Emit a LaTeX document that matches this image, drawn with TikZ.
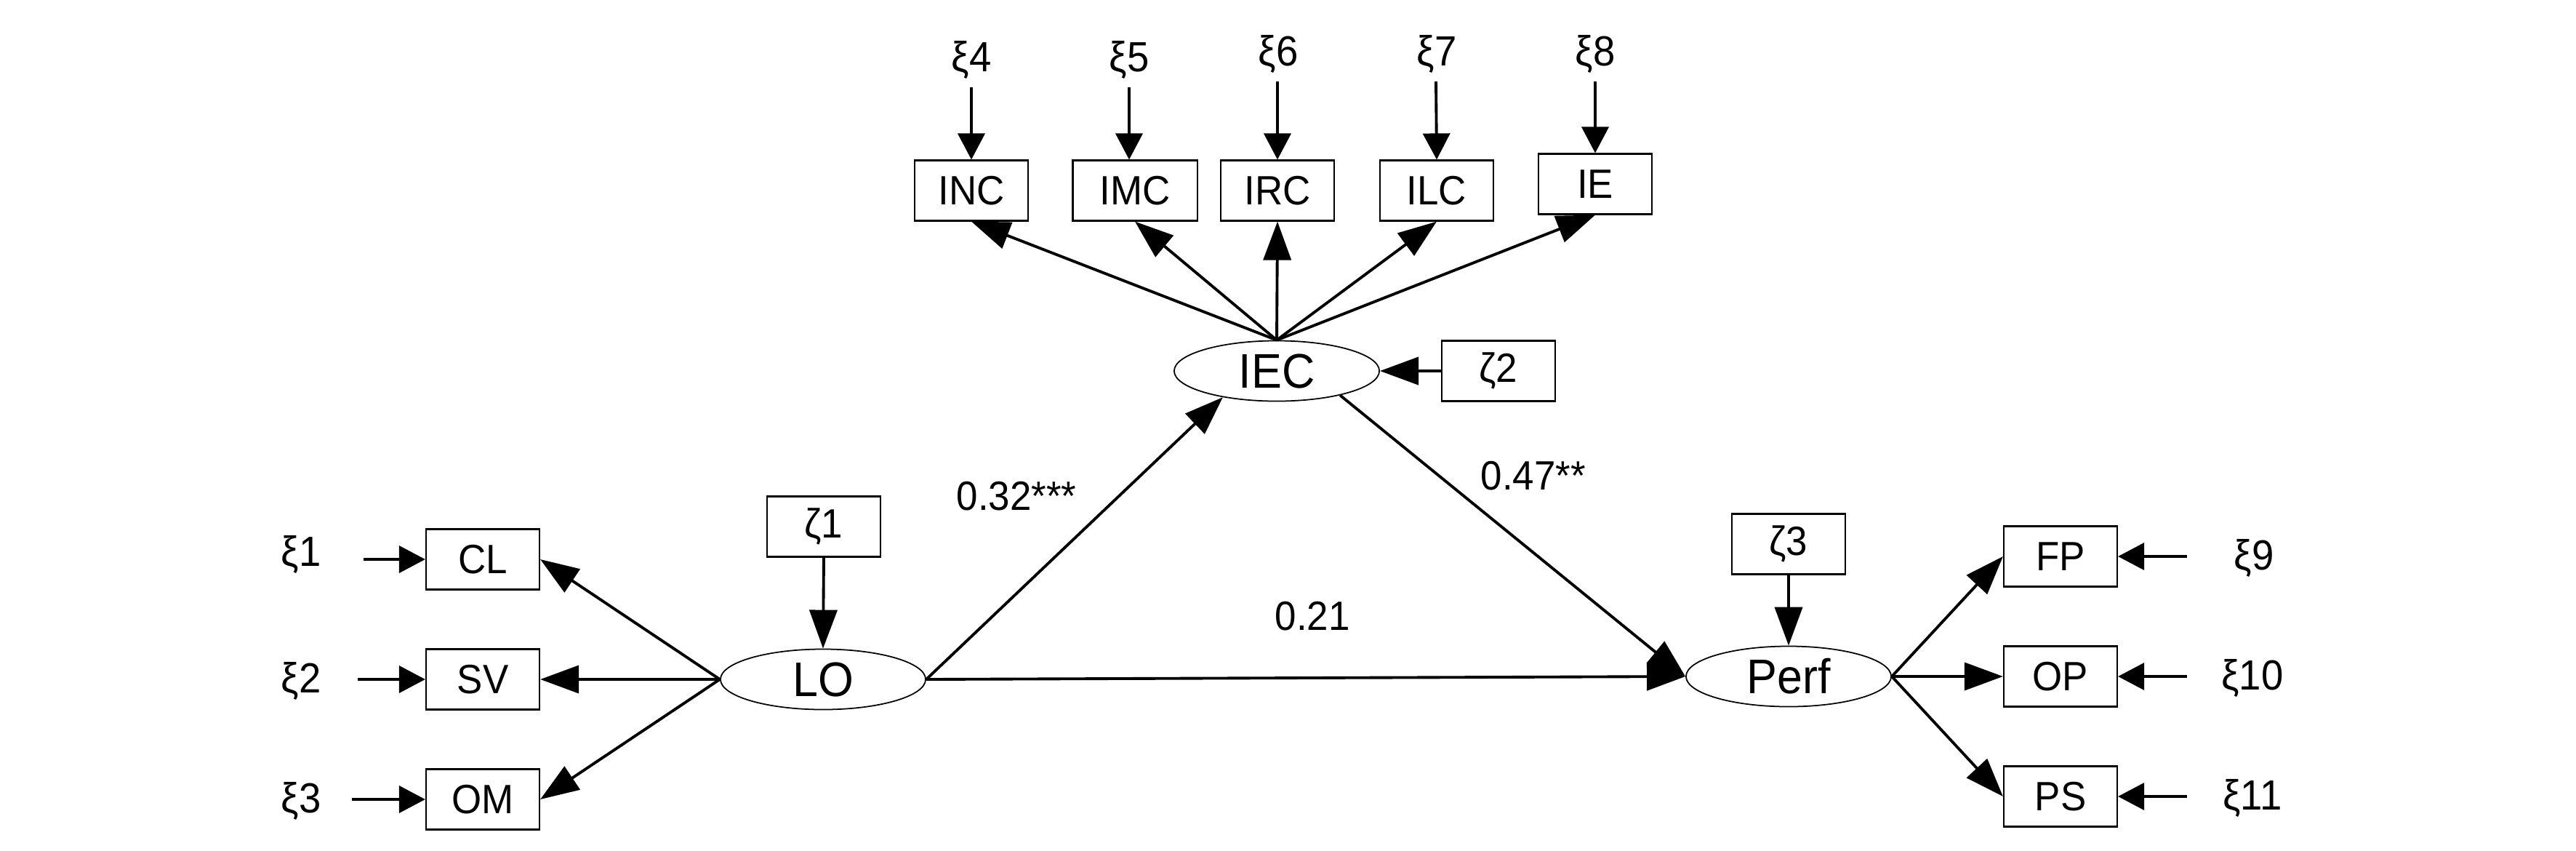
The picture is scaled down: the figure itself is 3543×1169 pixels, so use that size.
\documentclass[tikz,border=0pt]{standalone}
\usepackage{fontspec}
\setmainfont[FakeStretch=0.94]{Liberation Sans}
\usetikzlibrary{arrows.meta,shapes.geometric}
\begin{document}
\begin{tikzpicture}[x=0.01cm,y=-0.01cm,
  box/.style={draw, line width=0.6pt, minimum width=1.56cm, minimum height=0.83cm, inner sep=0pt, font=\fontsize{16}{18}\selectfont},
  lat/.style={draw, ellipse, line width=0.5pt, minimum width=2.82cm, minimum height=0.83cm, inner sep=0pt, font=\fontsize{19}{21}\selectfont},
  err/.style={inner sep=0pt, anchor=base, font=\fontsize{16.5}{18}\selectfont},
  coef/.style={inner sep=0pt, anchor=base west, font=\fontsize{16}{18}\selectfont},
  sarr/.style={line width=1.1pt, -{Triangle[length=0.53cm,width=0.38cm]}},
  earr/.style={line width=1.1pt, -{Triangle[length=0.36cm,width=0.37cm]}},
]
\useasboundingbox (0,0) rectangle (3543,1169);

% latent variables
\node[lat] (IEC) at (1756,510) {IEC};
\node[lat] (LO) at (1132,934) {LO};
\node[lat] (Perf) at (2460,930) {Perf};

% indicators top
\node[box] (INC) at (1336,262) {INC};
\node[box, minimum width=1.71cm] (IMC) at (1561,262) {IMC};
\node[box] (IRC) at (1757,262) {IRC};
\node[box] (ILC) at (1976,262) {ILC};
\node[box] (IE) at (2194,253) {IE};

% left indicators
\node[box] (CL) at (664,769) {CL};
\node[box] (SV) at (664,934) {SV};
\node[box] (OM) at (664,1099) {OM};

% right indicators
\node[box] (FP) at (2834,765) {FP};
\node[box] (OP) at (2834,930) {OP};
\node[box] (PS) at (2834,1095) {PS};

% disturbances
\node[box] (z1) at (1133,724) {ζ1};
\node[box] (z2) at (2061,510) {ζ2};
\node[box] (z3) at (2460,748) {ζ3};

% error labels
\node[err] (x4) at (1336,98) {ξ4};
\node[err] (x5) at (1553,98) {ξ5};
\node[err] (x6) at (1758,90) {ξ6};
\node[err] (x7) at (1976,90) {ξ7};
\node[err] (x8) at (2194,90) {ξ8};
\node[err] (x1) at (414,778) {ξ1};
\node[err] (x2) at (414,952) {ξ2};
\node[err] (x3) at (414,1117) {ξ3};
\node[err] (x9) at (3100,783) {ξ9};
\node[err] (x10) at (3098,948) {ξ10};
\node[err] (x11) at (3098,1113) {ξ11};

% arrow starts for error terms
\coordinate (s4) at (1336,120);
\coordinate (s5) at (1553,120);
\coordinate (s6) at (1757,112);
\coordinate (s7) at (1975,112);
\coordinate (s8) at (2194,112);
\coordinate (s1) at (500,769);
\coordinate (s2) at (492,934);
\coordinate (s3) at (484,1099);
\coordinate (s9) at (3008,765);
\coordinate (s10) at (3008,930);
\coordinate (s11) at (3008,1095);

\draw[earr] (s4) -- (INC.north);
\draw[earr] (s5) -- (s5 |- IMC.north);
\draw[earr] (s6) -- (IRC.north);
\draw[earr] (s7) -- (ILC.north);
\draw[earr] (s8) -- (IE.north);
\draw[earr] (s1) -- (CL.west);
\draw[earr] (s2) -- (SV.west);
\draw[earr] (s3) -- (OM.west);
\draw[earr] (s9) -- (FP.east);
\draw[earr] (s10) -- (OP.east);
\draw[earr] (s11) -- (PS.east);

% measurement paths
\draw[sarr] (IEC.north) -- (INC.south);
\draw[sarr] (IEC.north) -- (IMC.south);
\draw[sarr] (IEC.north) -- (IRC.south);
\draw[sarr] (IEC.north) -- (ILC.south);
\draw[sarr] (IEC.north) -- (IE.south);
\draw[sarr] (LO.west) -- (CL.east);
\draw[sarr] (LO.west) -- (SV.east);
\draw[sarr] (LO.west) -- (OM.east);
\draw[sarr] (Perf.east) -- (FP.west);
\draw[sarr] (Perf.east) -- (OP.west);
\draw[sarr] (Perf.east) -- (PS.west);

% disturbances
\draw[sarr] (z1.south) -- (LO.north);
\draw[sarr] (z2.west) -- (IEC.east);
\draw[sarr] (z3.south) -- (Perf.north);

% structural paths
\draw[sarr] (LO.east) -- (IEC.206);
\draw[sarr] (IEC.339) -- (Perf.west);
\draw[sarr] (LO.east) -- (Perf.west);

% coefficients
\node[coef] (c1) at (1315,701) {0.32***};
\node[coef] (c2) at (2036,673) {0.47**};
\node[coef] (c3) at (1753,866) {0.21};
\end{tikzpicture}
\end{document}
